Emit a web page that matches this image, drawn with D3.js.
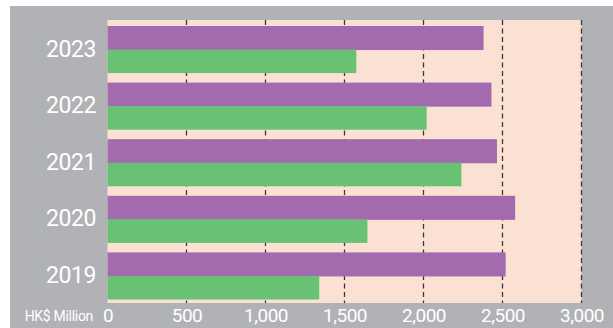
<!DOCTYPE html>
<html>
<head>
<meta charset="utf-8">
<script src="https://cdn.jsdelivr.net/npm/d3@7"></script>
<style>
  html, body { margin: 0; padding: 0; background: #ffffff; }
  svg { display: block; }
  text { font-family: Roboto, "Noto Sans", sans-serif; fill: #ffffff; }
</style>
</head>
<body>
<svg id="chart" width="613" height="328"></svg>
<script>
// Annual figures, HK$ million
const years = ["2023", "2022", "2021", "2020", "2019"];
const seriesA = [2380, 2430, 2465, 2580, 2520];   // purple bars
const seriesB = [1575, 2020, 2240, 1645, 1340];   // green bars
const tickValues = [0, 500, 1000, 1500, 2000, 2500, 3000];
const unitLabel = "HK$ Million";

const colors = { a: "#a36aad", b: "#69c173" };

const svg = d3.select("#chart");
const W = 613, H = 328;

// grey panel and peach plot area
svg.append("rect").attr("x", 10).attr("y", 6).attr("width", W - 10).attr("height", H - 6)
  .attr("fill", "#b1b2b5");

const plot = { left: 107.5, right: 581.5, top: 20, bottom: 303 };

svg.append("rect")
  .attr("x", plot.left).attr("y", plot.top)
  .attr("width", plot.right - plot.left).attr("height", plot.bottom - plot.top)
  .attr("fill", "#fbe1d3");

const x = d3.scaleLinear().domain([0, 3000]).range([plot.left, plot.right]);

const y = d3.scaleBand().domain(years).range([26, 299.5])
  .paddingInner(0.168).paddingOuter(0);

const sub = d3.scaleBand().domain(["a", "b"]).range([0, y.bandwidth()]).padding(0);

// dashed vertical grid lines
svg.append("g").selectAll("line")
  .data(tickValues.filter(v => v > 0))
  .join("line")
  .attr("x1", d => x(d)).attr("x2", d => x(d))
  .attr("y1", plot.top).attr("y2", plot.bottom)
  .attr("stroke", "#3f3535")
  .attr("stroke-width", 1.3)
  .attr("stroke-dasharray", "5,3.5");

// bars
const rows = years.map((yr, i) => ({ yr, a: seriesA[i], b: seriesB[i] }));
const g = svg.append("g").selectAll("g").data(rows).join("g")
  .attr("transform", d => `translate(0,${y(d.yr)})`);

g.append("rect")
  .attr("x", x(0)).attr("y", sub("a"))
  .attr("width", d => x(d.a) - x(0)).attr("height", sub.bandwidth() + 0.5)
  .attr("fill", colors.a);

g.append("rect")
  .attr("x", x(0)).attr("y", sub("b"))
  .attr("width", d => x(d.b) - x(0)).attr("height", sub.bandwidth())
  .attr("fill", colors.b);

// year labels
svg.append("g").selectAll("text").data(years).join("text")
  .attr("x", 96)
  .attr("y", d => y(d) + y.bandwidth() / 2 + 7)
  .attr("text-anchor", "end")
  .attr("font-size", 23)
  .attr("letter-spacing", -0.4)
  .text(d => d);

// x axis
const axis = d3.axisBottom(x).tickValues(tickValues).tickSize(0).tickPadding(0)
  .tickFormat(d3.format(","));
const ax = svg.append("g").attr("transform", `translate(0,${plot.bottom})`).call(axis);
ax.select(".domain").remove();
ax.selectAll("text")
  .attr("y", 18.5).attr("dy", null)
  .attr("fill", "#ffffff")
  .attr("font-size", 19)
  .attr("letter-spacing", -0.5)
  .style("font-family", "Roboto, 'Noto Sans', sans-serif");

svg.append("text")
  .attr("x", 93).attr("y", 321)
  .attr("text-anchor", "end")
  .attr("font-size", 14)
  .attr("letter-spacing", -0.3)
  .text(unitLabel);
</script>
</body>
</html>
